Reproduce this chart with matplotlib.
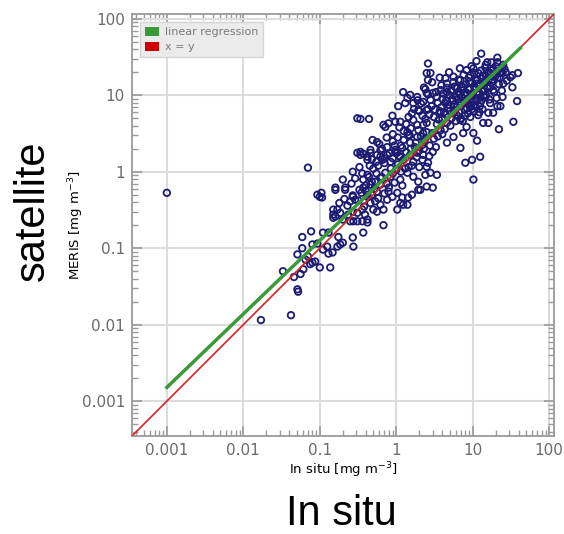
import matplotlib
matplotlib.use("Agg")
import matplotlib.pyplot as plt
from matplotlib.patches import Patch
import numpy as np

# chlorophyll match-ups, in situ vs MERIS [mg m^-3]
# lower / sparse part
insitu_low = [0.001, 0.017, 0.042, 0.033, 0.051, 0.046, 0.051, 0.052, 0.061, 0.056,
              0.065, 0.059, 0.059, 0.07, 0.077, 0.08, 0.087, 0.075, 0.08, 0.093,
              0.10, 0.137, 0.11, 0.13, 0.11, 0.13, 0.125, 0.147, 0.175, 0.17,
              0.185, 0.2, 0.27, 0.275, 0.07, 0.093, 0.105, 0.10, 0.107, 0.16,
              0.215, 0.2, 0.215, 0.16, 0.15, 0.15, 0.15, 0.17, 0.185, 0.2,
              0.16, 0.235, 0.25, 0.275, 0.31, 0.31, 0.36, 0.36, 0.39, 0.42,
              0.42, 0.27, 0.25, 0.35, 0.42, 0.37, 0.68]
meris_low = [0.53, 0.0115, 0.0133, 0.05, 0.083, 0.042, 0.029, 0.027, 0.053, 0.046,
             0.071, 0.10, 0.14, 0.078, 0.166, 0.065, 0.067, 0.062, 0.112, 0.115,
             0.056, 0.056, 0.096, 0.085, 0.16, 0.16, 0.105, 0.088, 0.14, 0.105,
             0.112, 0.118, 0.138, 0.105, 1.13, 0.50, 0.53, 0.47, 0.46, 0.58,
             0.58, 0.79, 0.62, 0.62, 0.32, 0.275, 0.25, 0.32, 0.29, 0.237,
             0.26, 0.275, 0.225, 0.225, 0.29, 0.225, 0.32, 0.225, 0.275, 0.217,
             0.237, 0.49, 0.41, 0.53, 0.50, 0.16, 0.2]

# middle part around 1
insitu_mid = [0.27, 0.37, 0.42, 0.46, 0.53, 0.62, 0.72, 0.84, 1.0, 1.13,
              1.4, 1.67, 1.94, 2.4, 2.5, 2.06, 0.27, 0.29, 0.42, 0.46,
              0.53, 0.62, 0.68, 0.76, 0.89, 1.03, 1.2, 1.43, 1.6, 1.4,
              1.13, 0.79, 0.56, 0.37, 0.5, 0.56, 1.03, 1.23, 1.94, 3.0,
              3.4, 0.31, 0.37, 0.46, 0.56, 0.76, 0.97, 1.13, 1.52, 1.88,
              2.25, 0.42, 0.66, 0.84, 1.23, 1.67, 2.2, 2.6]
meris_mid = [1.0, 0.79, 0.91, 0.68, 0.74, 0.83, 0.97, 0.86, 1.06, 0.79,
             0.97, 0.86, 0.74, 0.91, 0.64, 0.58, 0.47, 0.43, 0.47, 0.39,
             0.41, 0.37, 0.32, 0.43, 0.47, 0.53, 0.46, 0.46, 0.5, 0.37,
             0.39, 0.55, 0.55, 0.62, 0.32, 0.3, 0.32, 0.37, 0.58, 0.62,
             0.91, 1.77, 1.72, 1.77, 1.66, 1.66, 1.77, 1.57, 1.66, 1.77,
             1.66, 1.43, 1.43, 1.35, 1.43, 1.35, 1.43, 1.31]

# upper-middle part
insitu_upmid = [1.23, 1.52, 1.4, 1.88, 1.67, 1.31, 1.06, 2.5, 2.6, 2.5,
                2.25, 1.94, 2.5, 1.67, 1.88, 1.4, 1.43, 1.88, 2.25, 2.5,
                2.2, 1.52, 1.2, 1.03, 0.62, 0.46, 0.42, 0.34, 0.31, 0.34,
                0.44, 0.68, 0.79, 0.89, 0.97, 1.13, 0.49, 0.56, 0.72, 0.76,
                0.34, 0.97]
meris_upmid = [11, 10.1, 9.2, 9.5, 7.9, 7.9, 7.2, 19.5, 15.8, 10.7,
               8.2, 6.4, 6.4, 4.75, 4.1, 3.3, 3.0, 2.85, 4.1, 3.3,
               2.25, 2.4, 2.05, 1.77, 1.57, 1.93, 1.57, 1.66, 5.0, 4.9,
               4.9, 4.1, 4.3, 5.4, 4.5, 4.5, 2.6, 2.45, 3.85, 2.1,
               1.82, 1.93]

# upper-right part
insitu_high = [12.9, 21, 21, 15.5, 14.6, 10.2, 8.3, 9.3, 11.8, 18,
               24.5, 33, 39, 31, 21, 2.6, 2.8, 2.95, 2.4, 4.4,
               4.6, 5.6, 6.9, 7.5, 6.3, 3.8, 4.6, 11.4, 15.5, 18.5,
               33, 25, 38, 34, 22, 23, 21, 16, 13.7, 16,
               11.8, 10.2, 11.4, 12.5, 9.8, 8.0, 10.2, 2.8, 2.5, 3.0,
               6.9, 5.6, 4.6, 7.5, 8.3, 3.8, 2.5, 2.25, 2.95, 3.8,
               2.8, 3.0, 4.4, 5.9, 6.9, 9.3, 14.6, 16.9, 24.5, 12.5,
               4.6, 18.5]
meris_high = [35, 31, 27, 27, 23, 22.5, 21.3, 18.3, 19.5, 21.3,
              19.5, 18.3, 19.5, 17.2, 16.7, 26, 19.5, 14.8, 12, 16.7,
              14.2, 14.8, 15.8, 12.7, 12.4, 11.7, 11, 14.2, 12.7, 11.7,
              12.7, 14.2, 8.4, 4.5, 3.6, 7.2, 7.2, 5.9, 4.35, 4.35,
              5.5, 3.2, 2.55, 1.57, 1.43, 1.31, 0.79, 0.97, 1.16, 1.82,
              2.05, 2.85, 2.4, 3.2, 3.85, 3.5, 4.35, 3.2, 3.2, 5.9,
              8.7, 10.7, 7.9, 6.4, 4.75, 5.2, 9.5, 7.9, 9.5, 7.9,
              4.35, 5.9]

# dense core along the diagonal
insitu_core = [3.2, 3.5, 4.0, 4.2, 4.8, 5.0, 5.3, 5.5, 6.0, 6.2,
               6.5, 7.0, 7.2, 7.8, 8.0, 8.5, 8.8, 9.0, 9.5, 10,
               10.5, 11, 11.5, 12, 12.5, 13, 13.5, 14, 15, 15,
               16, 17, 18, 19, 20, 22, 6.5, 5.8, 4.6, 3.9,
               3.3, 2.9, 2.7, 3.6, 4.3, 5.1, 6.3, 7.4, 8.6, 9.8,
               10.8, 12.2, 13.8, 16.5, 5.6, 7.6, 8.9, 10.4, 12.8, 14.8,
               9.6, 11.2, 17.5, 19, 23.5, 26, 28, 24, 20.5, 6.8,
               4.9, 3.7, 2.6, 2.3, 1.9, 2.0, 2.4, 1.6, 1.35, 1.1,
               1.5, 1.8, 2.1, 1.25, 0.9, 0.95, 0.75, 0.65, 0.58, 0.7,
               0.85, 1.05, 1.3, 1.6, 1.85, 0.5, 0.44, 0.55, 0.62, 0.8,
               0.95, 1.2, 0.52, 0.36, 0.33, 0.29, 0.26, 0.4, 0.32, 0.23,
               0.21, 0.18, 0.27, 0.38, 0.48]
meris_core = [6.5, 8.0, 9.0, 6.0, 7.5, 10, 5.0, 8.5, 9.5, 7.0,
              11, 8.0, 13, 10, 6.5, 9.0, 12, 15, 7.5, 10.5,
              13, 9, 16, 11, 14, 8.5, 18, 12, 10, 15,
              20, 13, 16, 11, 24, 14, 16, 13, 12.5, 13.5,
              11, 7.2, 5.6, 4.8, 3.6, 4.0, 5.4, 4.6, 5.8, 6.6,
              7.2, 6.0, 9.8, 8.8, 17.5, 18.5, 17, 19.5, 21, 25,
              24, 28, 27, 18.5, 20, 22, 15.5, 11.5, 9.2, 22.5,
              20, 17, 10.2, 12.6, 8.6, 6.2, 4.9, 5.8, 4.2, 3.8,
              3.0, 2.4, 2.9, 2.6, 3.1, 2.2, 2.8, 2.0, 1.2, 1.3,
              1.1, 1.25, 1.1, 1.2, 1.55, 1.1, 0.85, 0.95, 0.68, 0.62,
              0.72, 0.66, 0.6, 0.95, 1.15, 0.82, 0.7, 0.56, 0.42, 0.36,
              0.44, 0.39, 0.3, 0.35, 0.5]

# more of the dense core
insitu_core2 = [3.4, 3.9, 4.1, 4.5, 4.7, 5.2, 5.4, 5.7, 6.1, 6.4,
                6.7, 7.1, 7.3, 7.7, 8.1, 8.3, 8.7, 9.1, 9.4, 9.7,
                10.2, 10.6, 11.1, 11.6, 12.1, 12.6, 13.2, 13.7, 14.3, 14.9,
                15.6, 16.2, 17, 17.8, 18.6, 19.6, 21, 22.5, 25, 27,
                3.1, 3.4, 3.7, 4.0, 4.4, 5.0, 5.6, 6.0, 6.6, 7.0,
                7.9, 8.4, 9.2, 10.4, 11.4, 12.4, 13.4, 2.2, 2.6, 2.1,
                1.7, 1.45, 1.25, 1.55, 1.95, 2.35, 2.75, 3.1, 3.5, 4.0,
                1.15, 1.05, 0.9, 0.82, 0.7, 0.62, 0.6, 0.55, 0.48, 0.45,
                0.9, 1.1, 1.35, 1.55, 1.75, 2.0, 2.3, 2.7, 3.3, 2.0,
                0.65, 0.75, 0.9, 1.15, 1.45, 0.58, 0.7, 0.48, 0.4, 0.33]
meris_core2 = [9.5, 7.0, 10.5, 8.5, 6.8, 11.5, 9.0, 7.6, 12.5, 8.8,
               10.2, 9.4, 11.6, 8.4, 13.8, 10.8, 7.8, 12.2, 9.8, 14.5,
               8.2, 11.8, 15.5, 10.2, 13.2, 9.4, 16.5, 11.2, 14.6, 18,
               12.4, 16, 19.5, 14.8, 22, 17.5, 20.5, 17, 25, 20,
               5.2, 4.2, 6.2, 5.0, 5.6, 6.2, 5.8, 4.6, 6.0, 5.0,
               5.4, 6.8, 7.0, 6.2, 8.6, 7.2, 6.6, 5.4, 6.6, 7.8,
               6.6, 5.2, 3.4, 3.7, 3.5, 2.6, 2.2, 2.7, 2.9, 3.1,
               2.2, 2.8, 2.5, 1.75, 1.5, 1.9, 2.3, 1.35, 1.45, 1.2,
               1.5, 1.6, 1.8, 2.0, 2.1, 1.9, 2.0, 1.6, 2.1, 1.15,
               0.85, 0.7, 0.95, 1.0, 1.15, 0.45, 0.52, 0.74, 0.66, 0.58]

insitu = np.array(insitu_low + insitu_mid + insitu_upmid + insitu_high
                  + insitu_core + insitu_core2)
meris = np.array(meris_low + meris_mid + meris_upmid + meris_high
                 + meris_core + meris_core2)

# regression line (log10 space)
reg_slope = 0.96
reg_intercept = 0.06
reg_x = [0.001, 42]

lims = (3.5e-4, 115)

fig = plt.figure(figsize=(5.64, 5.34), dpi=100)
ax = fig.add_axes([0.234, 0.1835, 0.748, 0.79])

ax.set_xscale("log")
ax.set_yscale("log")
ax.set_xlim(lims)
ax.set_ylim(lims)

ax.grid(True, which="major", color="#dcdcdc", linewidth=1.5)
ax.set_axisbelow(True)

ax.scatter(insitu, meris, s=22, facecolors="none", edgecolors="#1b1b74",
           linewidths=1.3, zorder=3)

ax.plot(lims, lims, color="#dd2020", linewidth=1.2, zorder=4)
rx = np.array(reg_x)
ax.plot(rx, 10 ** reg_intercept * rx ** reg_slope, color="#3a9a3a",
        linewidth=2.5, zorder=5)

ax.set_xticks([0.001, 0.01, 0.1, 1, 10, 100])
ax.set_xticklabels(["0.001", "0.01", "0.1", "1", "10", "100"])
ax.set_yticks([0.001, 0.01, 0.1, 1, 10, 100])
ax.set_yticklabels(["0.001", "0.01", "0.1", "1", "10", "100"])

for s in ax.spines.values():
    s.set_color("#9a9a9a")
    s.set_linewidth(1.3)
ax.tick_params(which="both", direction="in", top=True, right=True,
               color="#9a9a9a", labelcolor="#6a6a6a", labelsize=11)
ax.tick_params(which="major", length=7, width=1.2, pad=5)
ax.tick_params(which="minor", length=4, width=1.0)

ax.set_xlabel("In situ [mg m$^{-3}$]", fontsize=9.5, labelpad=2)
ax.set_ylabel("MERIS [mg m$^{-3}$]", fontsize=9.5, labelpad=-3)

handles = [Patch(facecolor="#3a9a3a", edgecolor="none", label="linear regression"),
           Patch(facecolor="#cc0000", edgecolor="none", label="x = y")]
leg = ax.legend(handles=handles, loc="upper left", fontsize=8, fancybox=False,
                handlelength=1.3, handleheight=0.9, labelspacing=0.4,
                borderaxespad=0.7, handletextpad=0.5, borderpad=0.45)
leg.get_frame().set_facecolor("#ebebeb")
leg.get_frame().set_edgecolor("#d4d4d4")
leg.get_frame().set_alpha(1)
for t in leg.get_texts():
    t.set_color("#7a7a7a")

fig.text(0.059, 0.605, "satellite", rotation=90, fontsize=30,
         family="Liberation Sans", ha="center", va="center")
fig.text(0.605, 0.016, "In situ", fontsize=30, family="Liberation Sans",
         ha="center", va="baseline")

fig.savefig("out.png", dpi=100)
